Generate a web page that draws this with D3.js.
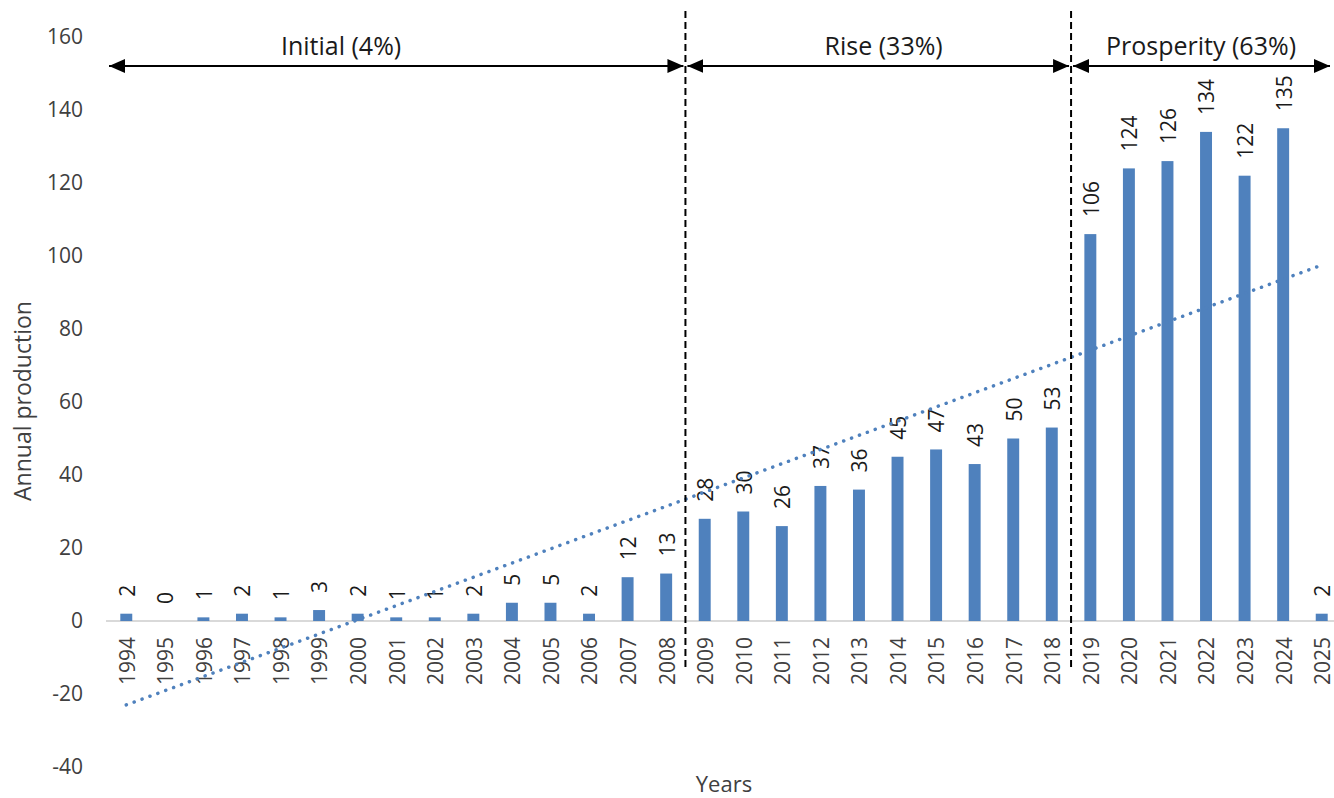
<!DOCTYPE html>
<html>
<head>
<meta charset="utf-8">
<script src="https://cdn.jsdelivr.net/npm/d3@7/dist/d3.min.js"></script>
<style>
  body { margin: 0; background: #fff; }
  svg { display: block; font-family: "Open Sans", sans-serif; }
</style>
</head>
<body>
<div id="chart"></div>
<script>
// data
var years = ["1994","1995","1996","1997","1998","1999","2000","2001","2002","2003","2004",
  "2005","2006","2007","2008","2009","2010","2011","2012","2013","2014","2015","2016",
  "2017","2018","2019","2020","2021","2022","2023","2024","2025"];
var production = [2,0,1,2,1,3,2,1,1,2,5,5,2,12,13,28,30,26,37,36,45,47,43,50,53,
  106,124,126,134,122,135,2];
var yTicks = [-40,-20,0,20,40,60,80,100,120,140,160];
// linear trend line, end points
var trendYears = ["1994","2025"];
var trendValues = [-23, 97.5];
// phases: last year of each phase before a divider
var phaseBreaks = ["2008","2018"];
var phaseNames = ["Initial (4%)","Rise (33%)","Prosperity (63%)"];

// layout
var width = 1334, height = 798;
var blue = "#4f81bd";
var phaseLabelPos = [5.57, 19.64, 27.87]; // in category steps from first year

var svg = d3.select("#chart")
  .append("svg")
    .attr("width", width)
    .attr("height", height);

var x = d3.scaleBand()
  .domain(years)
  .range([107, 1341])
  .paddingInner(0.69)
  .paddingOuter(0.345);

var step = x.step();
function cx(yr) { return x(yr) + x.bandwidth() / 2; }

var y = d3.scaleLinear()
  .domain([-40, 160])
  .range([767, 37]);

// y tick labels (no axis line)
svg.append("g")
  .selectAll("text")
  .data(yTicks)
  .enter()
  .append("text")
    .attr("x", 83)
    .attr("y", function(d) { return y(d); })
    .attr("dy", "0.35em")
    .attr("text-anchor", "end")
    .style("font-size", "21px")
    .style("fill", "#404040")
    .text(function(d) { return d; });

// zero line
svg.append("line")
  .attr("x1", 106).attr("x2", width)
  .attr("y1", y(0)).attr("y2", y(0))
  .attr("stroke", "#d9d9d9")
  .attr("stroke-width", 2);

// bars
svg.append("g")
  .selectAll("rect")
  .data(production)
  .enter()
  .append("rect")
    .attr("x", function(d, i) { return x(years[i]); })
    .attr("width", x.bandwidth())
    .attr("y", function(d) { return y(d); })
    .attr("height", function(d) { return y(0) - y(d); })
    .attr("fill", blue);

// value labels
svg.append("g")
  .selectAll("text")
  .data(production)
  .enter()
  .append("text")
    .attr("transform", function(d, i) {
      return "translate(" + (cx(years[i]) + 1) + "," + (y(d) - 17) + ") rotate(-90)";
    })
    .attr("dy", "0.35em")
    .style("font-size", "21px")
    .style("fill", "#1a1a1a")
    .text(function(d) { return d; });

// x tick labels
svg.append("g")
  .selectAll("text")
  .data(years)
  .enter()
  .append("text")
    .attr("transform", function(d) {
      return "translate(" + (cx(d) + 1) + "," + (y(0) + 16) + ") rotate(-90)";
    })
    .attr("dy", "0.35em")
    .attr("text-anchor", "end")
    .style("font-size", "21px")
    .style("fill", "#404040")
    .text(function(d) { return d; });

// trend line
svg.append("path")
  .datum(trendYears.map(function(d, i) { return [d, trendValues[i]]; }))
  .attr("d", d3.line()
    .x(function(d) { return cx(d[0]); })
    .y(function(d) { return y(d[1]); }))
  .attr("fill", "none")
  .attr("stroke", blue)
  .attr("stroke-width", 3.5)
  .attr("stroke-linecap", "round")
  .attr("stroke-dasharray", "0.1 8.3");

// phase dividers
var divX = phaseBreaks.map(function(d) { return cx(d) + step / 2; });
svg.append("g")
  .selectAll("line")
  .data(divX)
  .enter()
  .append("line")
    .attr("x1", function(d) { return d; })
    .attr("x2", function(d) { return d; })
    .attr("y1", 11)
    .attr("y2", 668)
    .attr("stroke", "#000")
    .attr("stroke-width", 2)
    .attr("stroke-dasharray", "7 4");

// arrows
var defs = svg.append("defs");
defs.append("marker")
  .attr("id", "head")
  .attr("markerUnits", "userSpaceOnUse")
  .attr("viewBox", "0 0 16 14")
  .attr("refX", 16).attr("refY", 7)
  .attr("markerWidth", 16).attr("markerHeight", 14)
  .attr("orient", "auto-start-reverse")
  .append("path")
    .attr("d", "M0,0 L16,7 L0,14 Z")
    .attr("fill", "#000");

var edges = [109].concat(divX).concat([1330]);
var arrowY = 66;
svg.append("g")
  .selectAll("line")
  .data(phaseNames)
  .enter()
  .append("line")
    .attr("x1", function(d, i) { return edges[i] + (i === 0 ? 0 : 2); })
    .attr("x2", function(d, i) { return edges[i + 1] - (i === phaseNames.length - 1 ? 0 : 2); })
    .attr("y1", arrowY).attr("y2", arrowY)
    .attr("stroke", "#000")
    .attr("stroke-width", 2)
    .attr("marker-start", "url(#head)")
    .attr("marker-end", "url(#head)");

svg.append("g")
  .selectAll("text")
  .data(phaseNames)
  .enter()
  .append("text")
    .attr("x", function(d, i) { return cx(years[0]) + phaseLabelPos[i] * step; })
    .attr("y", 55)
    .attr("text-anchor", "middle")
    .style("font-size", "25px")
    .style("fill", "#1a1a1a")
    .text(function(d) { return d; });

// axis titles
svg.append("text")
  .attr("transform", "translate(31,401) rotate(-90)")
  .attr("text-anchor", "middle")
  .style("font-size", "23px")
  .style("fill", "#404040")
  .text("Annual production");

svg.append("text")
  .attr("x", 724)
  .attr("y", 792)
  .attr("text-anchor", "middle")
  .style("font-size", "22px")
  .style("fill", "#404040")
  .text("Years");
</script>
</body>
</html>
